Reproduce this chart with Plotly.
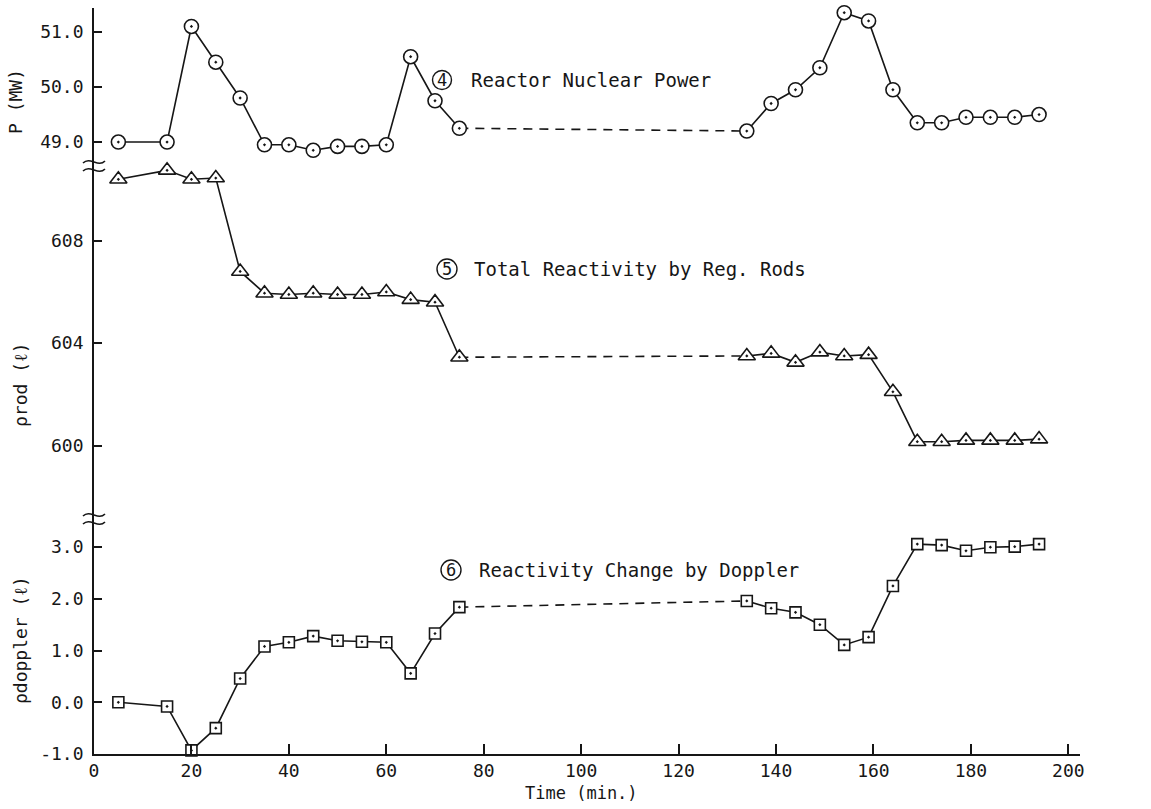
import plotly.graph_objects as go

# ---- data -------------------------------------------------------------
time_a = [5, 15, 20, 25, 30, 35, 40, 45, 50, 55, 60, 65, 70, 75]
time_b = [134, 139, 144, 149, 154, 159, 164, 169, 174, 179, 184, 189, 194]

power_a = [49.0, 49.0, 51.1, 50.45, 49.8, 48.95, 48.95, 48.85, 48.92, 48.92, 48.95, 50.55, 49.75, 49.25]
power_b = [49.2, 49.7, 49.95, 50.35, 51.35, 51.2, 49.95, 49.35, 49.35, 49.45, 49.45, 49.45, 49.5]

rod_a = [610.4, 610.75, 610.4, 610.45, 606.8, 605.95, 605.9, 605.95, 605.9, 605.9, 606.0, 605.7, 605.6, 603.45]
rod_b = [603.5, 603.6, 603.25, 603.65, 603.5, 603.55, 602.1, 600.15, 600.15, 600.2, 600.2, 600.2, 600.25]

doppler_a = [0.0, -0.08, -0.93, -0.5, 0.46, 1.08, 1.16, 1.28, 1.19, 1.17, 1.16, 0.56, 1.33, 1.84]
doppler_b = [1.96, 1.82, 1.74, 1.5, 1.11, 1.26, 2.25, 3.06, 3.04, 2.93, 3.0, 3.01, 3.06]

time_ticks = [0, 20, 40, 60, 80, 100, 120, 140, 160, 180, 200]
power_ticks = [49, 50, 51]
power_labels = ["49.0", "50.0", "51.0"]
rod_ticks = [600, 604, 608]
rod_labels = ["600", "604", "608"]
doppler_ticks = [-1, 0, 1, 2, 3]
doppler_labels = ["-1.0", "0.0", "1.0", "2.0", "3.0"]

series_names = ["Reactor Nuclear Power", "Total Reactivity by Reg. Rods", "Reactivity Change by Doppler"]
series_numbers = ["4", "5", "6"]

# ---- page geometry (pixels) ------------------------------------------
W, H = 1151, 809
L, R, T, B = 94, 1080, 8, 754
PW, PH = R - L, B - T


def fx(px):
    return (px - L) / PW


def fy(py):
    return (B - py) / PH


INK = "#161616"
FONT = "DejaVu Sans Mono"

fig = go.Figure()

panels = [
    ("y", power_a, power_b, "circle-dot", 14),
    ("y2", rod_a, rod_b, "triangle-up-dot", 15),
    ("y3", doppler_a, doppler_b, "square-dot", 11),
]

for yref, va, vb, sym, size in panels:
    # dashed bridge across the unmeasured interval
    fig.add_trace(go.Scatter(
        x=[time_a[-1], time_b[0]], y=[va[-1], vb[0]], yaxis=yref,
        mode="lines", line=dict(color=INK, width=1.6, dash="9px,7px"),
        cliponaxis=False, hoverinfo="skip"))
    for tx, vy in ((time_a, va), (time_b, vb)):
        fig.add_trace(go.Scatter(
            x=tx, y=vy, yaxis=yref, mode="lines+markers",
            line=dict(color=INK, width=1.6),
            marker=dict(symbol=sym, size=size, color="white",
                        line=dict(color=INK, width=1.6)),
            cliponaxis=False))

tick_font = dict(family=FONT, size=18, color=INK)
axis_common = dict(showline=True, linecolor=INK, linewidth=1.7, ticks="inside",
                   tickcolor=INK, tickwidth=1.6, showgrid=False, zeroline=False,
                   tickfont=tick_font)

fig.update_layout(
    width=W, height=H,
    margin=dict(l=L, r=W - R, t=T, b=H - B, pad=0),
    paper_bgcolor="white", plot_bgcolor="white",
    showlegend=False,
    xaxis=dict(range=[0, 202.4], anchor="y3", tickvals=time_ticks, ticklen=10,
               **axis_common),
    yaxis=dict(domain=[fy(166), 1.0], range=[48.564, 51.436], anchor="x",
               tickvals=power_ticks, ticktext=power_labels, ticklen=8,
               ticklabelstandoff=5, **axis_common),
    yaxis2=dict(domain=[fy(519), fy(166)], range=[597.13, 610.92], anchor="x",
                tickvals=rod_ticks, ticktext=rod_labels, ticklen=8,
                ticklabelstandoff=5, **axis_common),
    yaxis3=dict(domain=[0.0, fy(519)], range=[-1.0, 3.545], anchor="x",
                tickvals=doppler_ticks, ticktext=doppler_labels, ticklen=8,
                ticklabelstandoff=5, **axis_common),
)

# axis-break marks on the vertical axis
shapes = []
for yc in (166, 519):
    for dy in (-4, 4):
        y0 = yc + dy
        x0, x1 = L - 11, L + 11
        path = (f"M{fx(x0)},{fy(y0 + 1)} "
                f"C{fx(x0 + 7)},{fy(y0 - 6)} {fx(x0 + 15)},{fy(y0 + 6)} {fx(x1)},{fy(y0 - 1)}")
        shapes.append(dict(type="path", xref="paper", yref="paper", path=path,
                           line=dict(color=INK, width=1.6)))

# circled series numbers and series labels
label_pos = [((442, 80), 9.5, 469), ((447, 269), 10, 472), ((451, 570), 10, 477)]
annotations = []
for (num, name, ((cx, cy), r, tx)) in zip(series_numbers, series_names, label_pos):
    shapes.append(dict(type="circle", xref="paper", yref="paper",
                       x0=fx(cx - r), x1=fx(cx + r), y0=fy(cy + r), y1=fy(cy - r),
                       line=dict(color=INK, width=1.4)))
    annotations.append(dict(xref="paper", yref="paper", x=fx(cx), y=fy(cy), text=num,
                            showarrow=False, xanchor="center", yanchor="middle",
                            font=dict(family=FONT, size=17, color=INK)))
    annotations.append(dict(xref="paper", yref="paper", x=fx(tx), y=fy(cy), text=name,
                            showarrow=False, xanchor="left", yanchor="middle",
                            font=dict(family=FONT, size=19, color=INK)))

# axis titles
for text, (cx, cy) in (("P (MW)", (16, 102)), ("ρrod (ℓ)", (20, 385)),
                       ("ρdoppler (ℓ)", (20, 640))):
    annotations.append(dict(xref="paper", yref="paper", x=fx(cx), y=fy(cy), text=text,
                            textangle=-90, showarrow=False, xanchor="center",
                            yanchor="middle", font=dict(family=FONT, size=18, color=INK)))
annotations.append(dict(xref="paper", yref="paper", x=fx(581), y=fy(793), text="Time (min.)",
                        showarrow=False, xanchor="center", yanchor="middle",
                        font=dict(family=FONT, size=17, color=INK)))

fig.update_layout(shapes=shapes, annotations=annotations)

fig.write_html("out.html")
